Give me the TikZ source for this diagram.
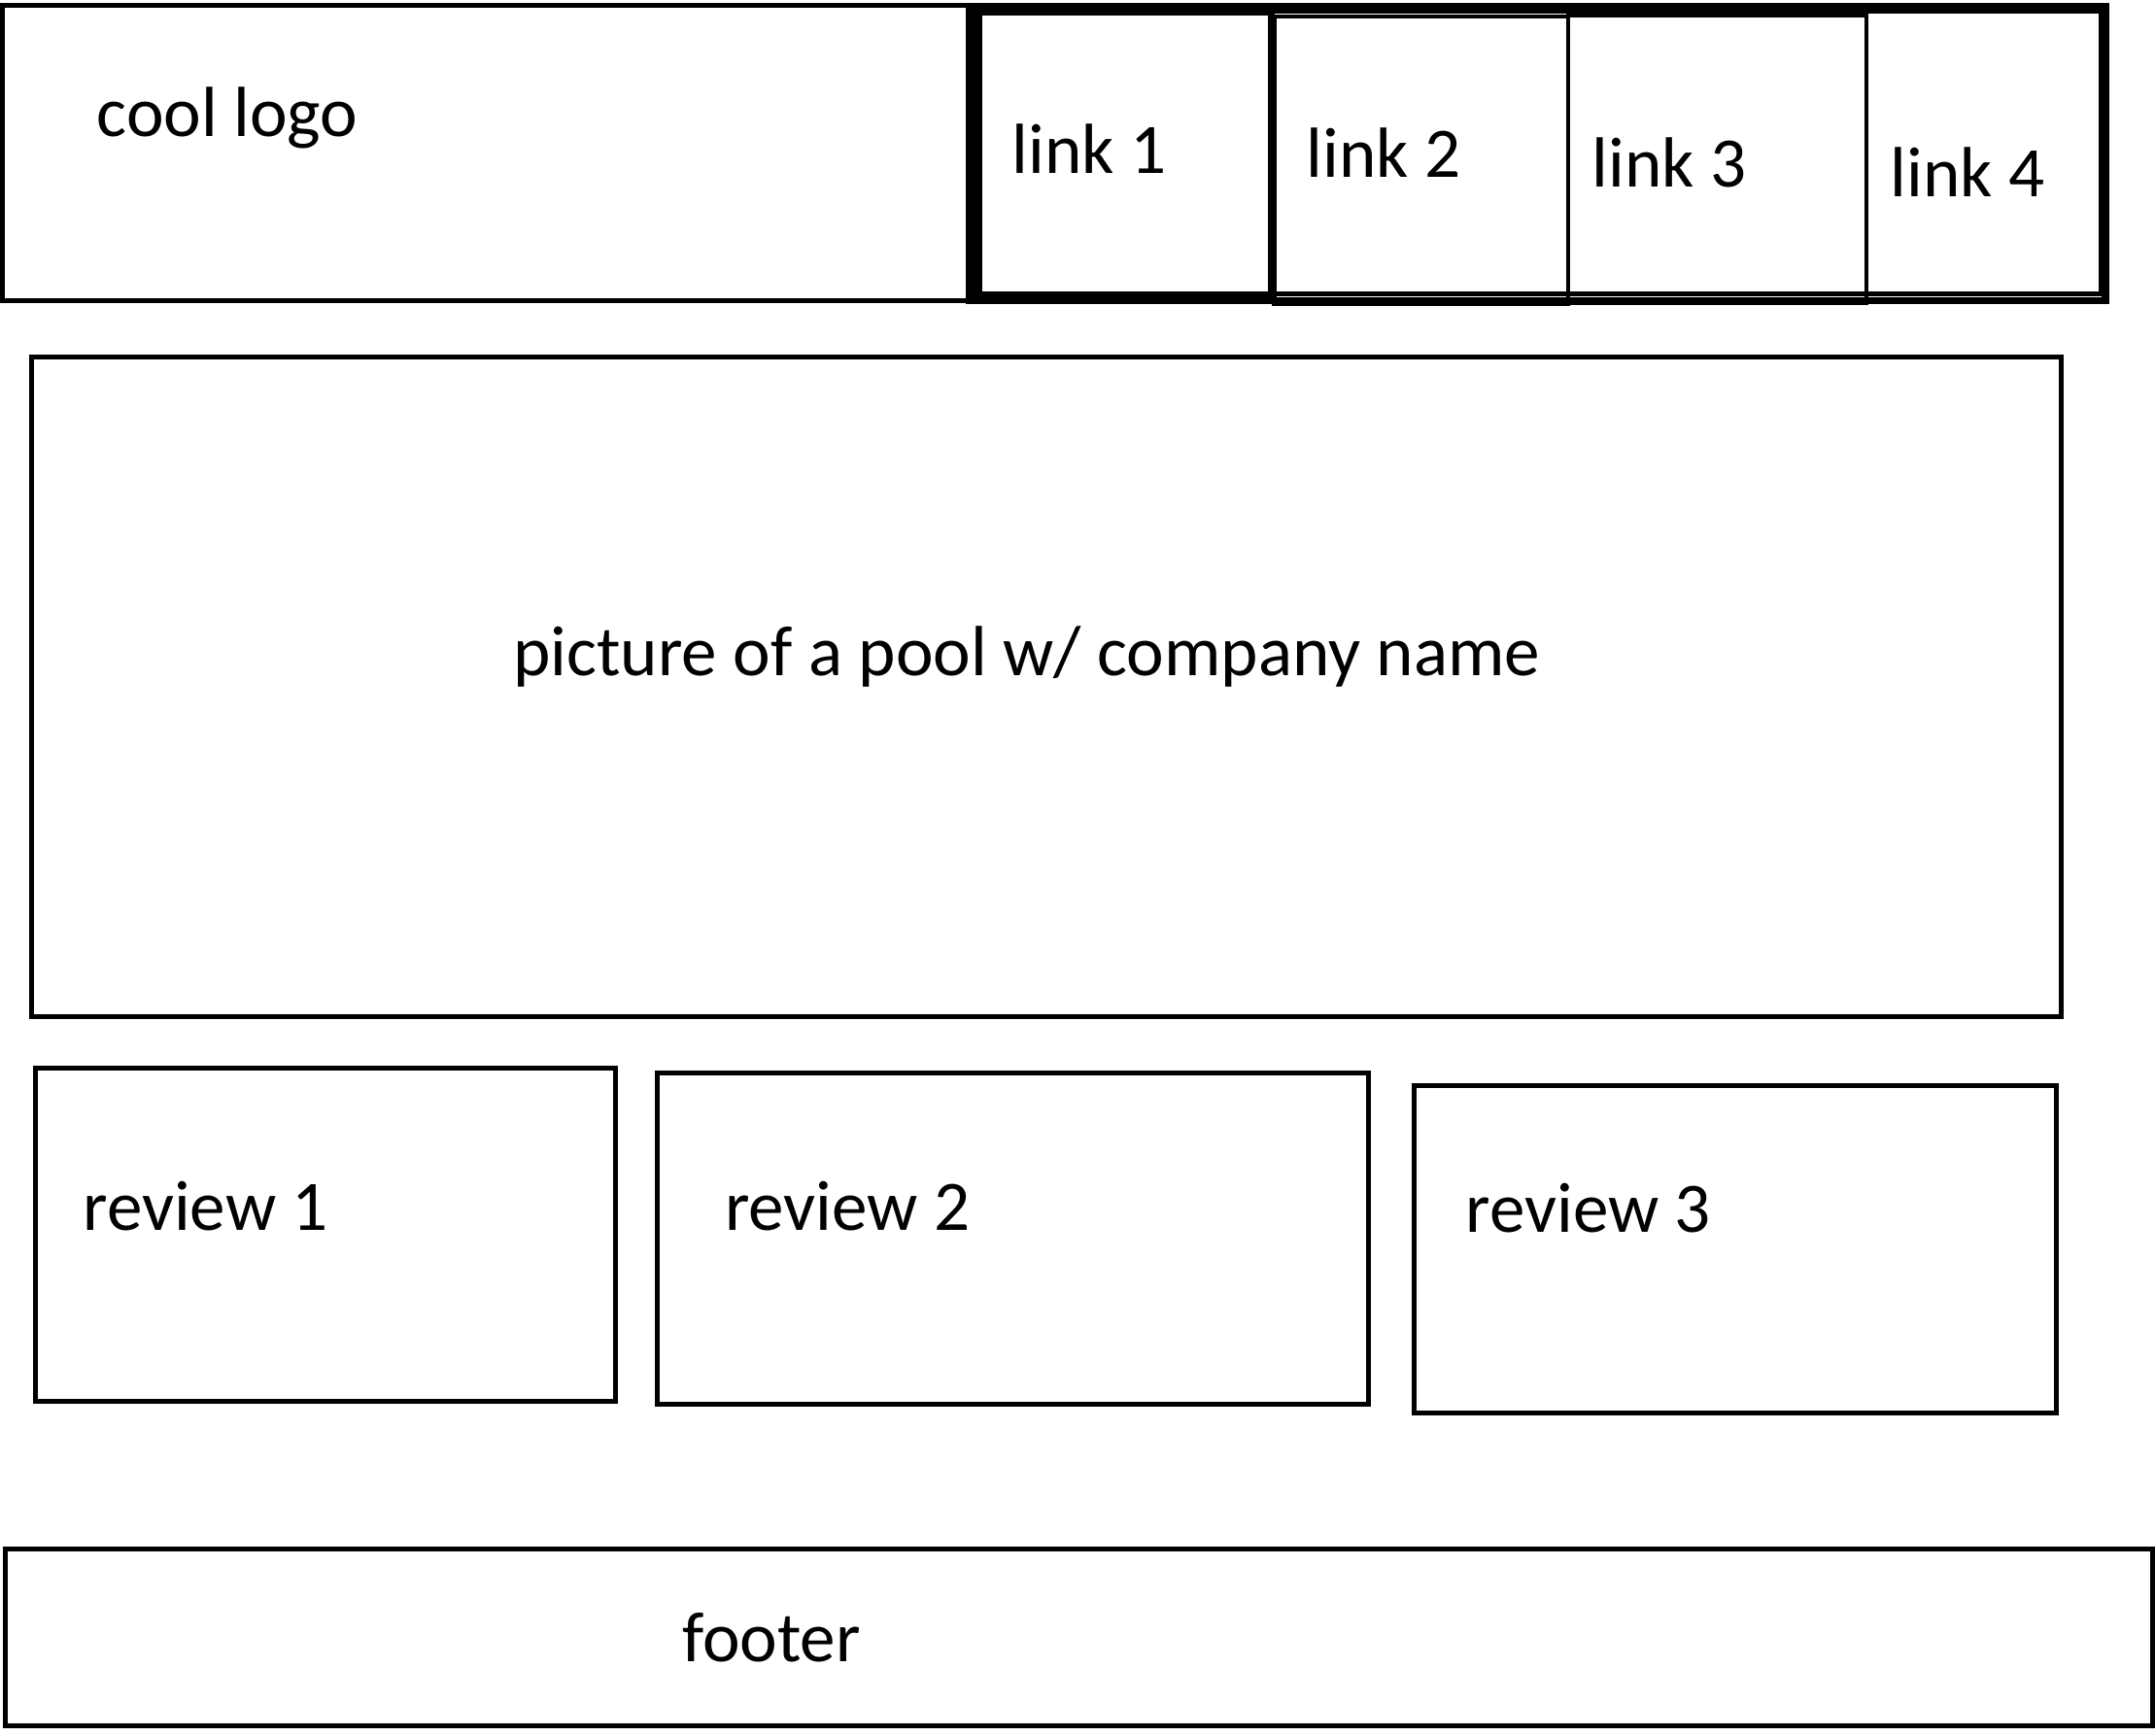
\documentclass[tikz,border=0pt]{standalone}
\usepackage{fontspec}
\setmainfont{Carlito}
\begin{document}
\begin{tikzpicture}
	[x=0.014145cm, y=-0.014145cm,
	every node/.style={inner sep=0pt, anchor=base west, font=\fontsize{20.8}{25}\selectfont},
	box/.style={draw, line width=1.4pt}, heavybox/.style={draw, line width=2.1pt}]
	\useasboundingbox (0,0) rectangle (1568,1263);
	% header
	\draw[box] (2,4) rectangle (707,219);
	\draw[heavybox] (705,5) rectangle (1532,219);
	\draw[box] (709,8) rectangle (1529,214);
	\draw[heavybox] (712,9) rectangle (925,215);
	\draw[box] (927,12) rectangle (1141,221);
	\draw[box] (1141,11) rectangle (1358,220);
	\node (logo) at (70,99) {cool logo};
	\node (link1) at (736,126) {link 1};
	\node (link2) at (950,129) {link 2};
	\node (link3) at (1158,136) {link 3};
	\node (link4) at (1375,143) {link 4};
	
	% hero
	\draw[box] (23,260) rectangle (1500,740);
	\node (hero) at (373,492) {picture of a pool w/ company name};
	
	% reviews
	\draw[box] (26,777) rectangle (448,1020);
	\draw[box] (478,781) rectangle (996,1022);
	\draw[box] (1029,790) rectangle (1496,1028);
	\node (rev1) at (60,895) {review 1};
	\node (rev2) at (527,895) {review 2};
	\node (rev3) at (1066,897) {review 3};
	
	% footer
	\draw[box] (4,1127) rectangle (1566,1256);
	\node (footer) at (496,1209) {footer};
\end{tikzpicture}
\end{document}
